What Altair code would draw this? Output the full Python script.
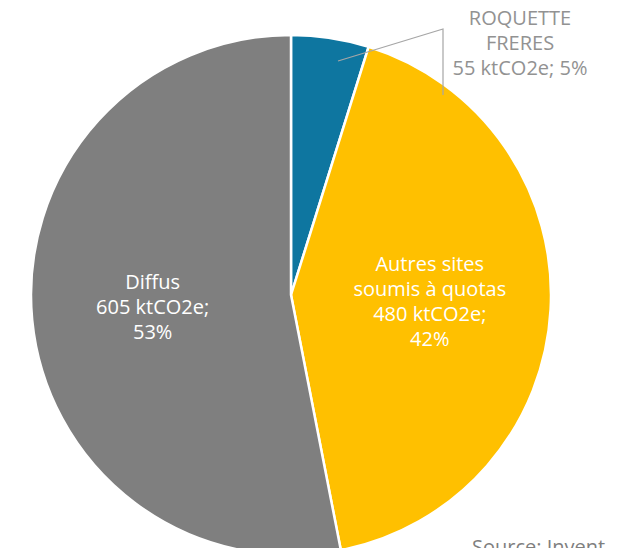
import altair as alt
import pandas as pd

# Data
names = ["ROQUETTE FRERES", "Autres sites soumis à quotas", "Diffus"]
values = [55, 480, 605]
colors = ["#0E76A0", "#FFC000", "#7F7F7F"]
inside_name_lines = [[], ["Autres sites", "soumis à quotas"], ["Diffus"]]
outside_label = "ROQUETTE\nFRERES\n55 ktCO2e; 5%"
source_text = "Source: Invent"

FONT = "Open Sans"
FS = 20
LH = 25

total = sum(values)
label_rows = []
for lines, v in zip(inside_name_lines, values):
    if not lines:
        label_rows.append([])
    else:
        pct = round(100 * v / total)
        label_rows.append(lines + [f"{v} ktCO2e;", f"{pct}%"])

df = pd.DataFrame({"name": names, "value": values, "order": list(range(len(names)))})
for i, rows in enumerate(label_rows):
    df[f"label{i}"] = ["\n".join(rows) if j == i else "" for j in range(len(names))]

# annotation geometry (leader line & outside label), chart pixel coords
leader_x = [330, 435, 435]
leader_y = [53, 21, 87]
leader = pd.DataFrame({"x": leader_x, "y": leader_y, "i": [0, 1, 2]})
ann = pd.DataFrame({"x": [512], "y": [11], "t": [outside_label]})
src = pd.DataFrame({"x": [464], "y": [546], "t": [source_text]})

CX, CY = 283, 287

base = alt.Chart(df).encode(
    theta=alt.Theta("value:Q", stack=True),
    order=alt.Order("order:Q"),
    x=alt.value(CX),
    y=alt.value(CY),
)

pie = base.mark_arc(outerRadius=260, stroke="white", strokeWidth=2.5).encode(
    color=alt.Color("name:N", scale=alt.Scale(domain=names, range=colors), legend=None)
)

layers = [pie]
for i, rows in enumerate(label_rows):
    if not rows:
        continue
    n = len(rows)
    layers.append(
        base.mark_text(
            radius=139, fontSize=FS, font=FONT, color="white", lineBreak="\n",
            lineHeight=LH, align="center", baseline="middle", dy=-(n - 1) * LH / 2
        ).encode(text=f"label{i}:N")
    )

line = alt.Chart(leader).mark_line(color="#A6A6A6", strokeWidth=1.2).encode(
    x=alt.X("x:Q", scale=None), y=alt.Y("y:Q", scale=None), order="i:Q"
)

outside = alt.Chart(ann).mark_text(
    fontSize=FS, font=FONT, color="#929292", lineBreak="\n", lineHeight=LH,
    align="center", baseline="middle"
).encode(x=alt.X("x:Q", scale=None), y=alt.Y("y:Q", scale=None), text="t:N")

source = alt.Chart(src).mark_text(
    fontSize=FS, font=FONT, color="#7F7F7F", align="left", baseline="alphabetic"
).encode(x=alt.X("x:Q", scale=None), y=alt.Y("y:Q", scale=None), text="t:N")

chart = alt.layer(*layers, line, outside, source).properties(
    width=602, height=540, autosize="none", padding=0
).configure_view(stroke=None)

chart.save("out.html", embed_options={"renderer": "svg", "actions": False})
